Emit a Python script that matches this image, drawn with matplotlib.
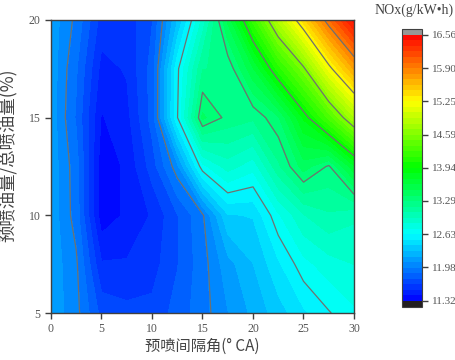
import numpy as np
import matplotlib
matplotlib.use("Agg")
import matplotlib.pyplot as plt
from matplotlib.colors import LinearSegmentedColormap

# grid
interval = [0, 2.5, 5, 7.5, 10, 12.5, 15, 17.5, 20, 22.5, 25, 27.5, 30]
ratio = [5, 7.5, 10, 12.5, 15, 17.5, 20]

row_5 = [12.15, 12.02, 11.72, 11.68, 11.68, 11.80, 11.93, 12.08, 12.22, 12.36, 12.50, 12.62, 12.72]
row_7_5 = [12.15, 12.00, 11.55, 11.55, 11.60, 11.75, 11.93, 12.15, 12.30, 12.50, 12.70, 12.80, 12.85]
row_10 = [12.15, 11.93, 11.36, 11.45, 11.55, 11.75, 11.96, 12.40, 12.42, 12.72, 12.95, 13.05, 12.98]
row_12_5 = [12.15, 11.92, 11.36, 11.45, 11.70, 12.05, 12.70, 12.90, 12.78, 13.15, 13.45, 13.27, 13.70]
row_15 = [12.15, 11.85, 11.42, 11.50, 11.80, 12.62, 13.42, 13.25, 13.20, 13.38, 13.85, 14.30, 14.80]
row_17_5 = [12.15, 11.88, 11.50, 11.55, 11.80, 12.60, 13.17, 13.20, 13.60, 14.10, 14.55, 15.18, 15.70]
row_20 = [12.15, 11.95, 11.60, 11.58, 11.75, 12.30, 12.88, 13.53, 14.20, 14.85, 15.42, 16.00, 16.50]

cbar_ticks = [11.32, 11.98, 12.63, 13.29, 13.94, 14.59, 15.25, 15.90, 16.56]
line_levels = [11.98, 12.63, 13.29, 13.94, 14.59, 15.25, 15.90]

Z = np.array([row_5, row_7_5, row_10, row_12_5, row_15, row_17_5, row_20])
X, Y = np.meshgrid(interval, ratio)

cmap = LinearSegmentedColormap.from_list(
    "nox", ["#0000ff", "#00ffff", "#00ff00", "#ffff00", "#ff0000"])
cmap.set_over("#969696")
cmap.set_under("#231f20")

plt.rcParams['font.family'] = ["Liberation Serif", "Noto Sans CJK SC"]

fig = plt.figure(figsize=(4.56, 3.6), dpi=100)
ax = fig.add_axes([51/456, 47/360, 303/456, 293/360])
levels = np.linspace(cbar_ticks[0], cbar_ticks[-1], 49)
cf = ax.contourf(X, Y, Z, levels=levels, cmap=cmap, extend='both')
ax.contour(X, Y, Z, levels=line_levels, colors="#707070", linewidths=0.9)

ax.set_xlim(0, 30)
ax.set_ylim(5, 20)
ax.set_xticks([0, 5, 10, 15, 20, 25, 30])
ax.set_yticks([5, 10, 15, 20])
ax.tick_params(direction='out', length=4, width=1, colors='#404040',
               labelsize=8.5, labelcolor='#555555')
for s in ax.spines.values():
    s.set_color('#404040')
    s.set_linewidth(1.0)
ax.set_xlabel("预喷间隔角(° CA)", fontsize=11, color='#444444', labelpad=2,
              family=["Noto Sans CJK SC", "DejaVu Sans"])
ax.set_ylabel("预喷油量/总喷油量(%)", fontsize=12.5, color='#444444',
              family=["Noto Sans CJK SC", "DejaVu Sans"])
ax.yaxis.set_label_coords(-0.112, 0.54)

cax = fig.add_axes([402/456, (360-306.7)/360, 20/456, 277.7/360])
cb = fig.colorbar(cf, cax=cax, extendrect=True, extendfrac=0.022)
cb.set_ticks(cbar_ticks)
cb.set_ticklabels([f"{t:.2f}" for t in cbar_ticks])
cb.outline.set_edgecolor('#404040')
cax.tick_params(direction='out', length=4, width=1, colors='#404040',
                labelsize=8, labelcolor='#555555', pad=3)
fig.text(375/456, 1 - 10.5/360, "NOx(g/kW•h)", fontsize=10, color='#444444',
         ha='left', va='center', family=["Liberation Serif", "DejaVu Sans"])

fig.savefig("out.png", dpi=100)
